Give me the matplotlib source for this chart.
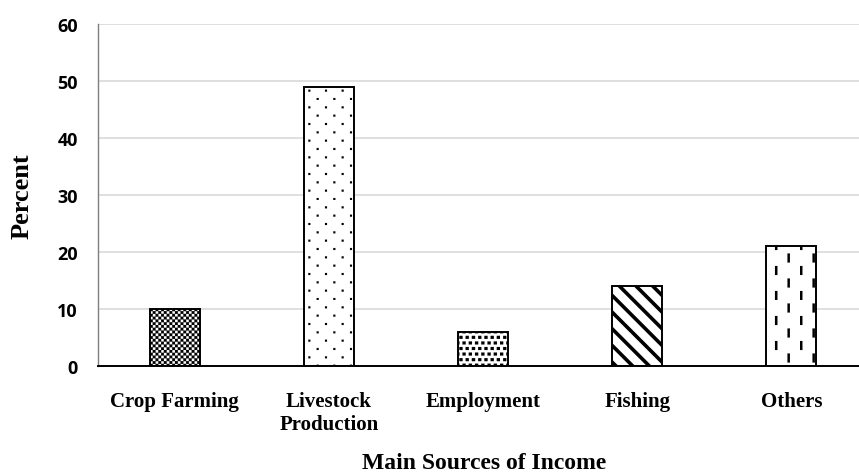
import matplotlib
matplotlib.use("Agg")
import matplotlib.pyplot as plt
from matplotlib import hatch as mhatch
from matplotlib.path import Path

# Data
categories = ["Crop Farming", "Livestock\nProduction", "Employment", "Fishing", "Others"]
percent = [10, 49, 6, 14, 21]
yticks = [0, 10, 20, 30, 40, 50, 60]
# fill patterns: '*' checker, '.' sparse dots, 'O' small squares, '\' thick stripes, '|' dashed columns
hatches = ["*", ".", "O", "\\\\", "|"]


# --- custom hatch patterns (unit tile = 1 inch) ---
def checker_rects(n=36):
    s = 1.0 / n
    return [(i * s, j * s, s, s) for i in range(n) for j in range(n) if (i + j) % 2 == 0]


def stagger_rects(nx, ny, w, h):
    out = []
    dx, dy = 1.0 / nx, 1.0 / ny
    for j in range(ny):
        off = dx / 2 if j % 2 else 0.0
        for i in range(nx):
            out.append((i * dx + off, j * dy, w, h))
    return out


def dash_rects(ncol=8, nper=4, length=0.09, width=0.024):
    out = []
    dx, dy = 1.0 / ncol, 1.0 / nper
    for i in range(ncol):
        off = dy / 2 if i % 2 else 0.0
        for j in range(nper):
            out.append((i * dx, j * dy + off, width, length))
    return out


class RectHatch(mhatch.HatchPatternBase):
    key = ""
    rects = []

    def __init__(self, hatch, density):
        self.num_vertices = 5 * len(self.rects) if self.key in hatch else 0

    def set_vertices_and_codes(self, vertices, codes):
        for k, (x0, y0, w, h) in enumerate(self.rects):
            # keep shapes inside the tile
            x0 = min(x0, 1 - w)
            y0 = min(y0, 1 - h)
            vertices[5 * k:5 * k + 5] = [(x0, y0), (x0 + w, y0), (x0 + w, y0 + h),
                                         (x0, y0 + h), (x0, y0)]
            codes[5 * k:5 * k + 5] = [Path.MOVETO, Path.LINETO, Path.LINETO,
                                      Path.LINETO, Path.CLOSEPOLY]


class CheckerHatch(RectHatch):
    key = "*"
    rects = checker_rects()


class SquaresHatch(RectHatch):
    key = "O"
    rects = stagger_rects(16, 18, 0.032, 0.03)


class DotsHatch(RectHatch):
    key = "."
    rects = stagger_rects(6, 12, 0.02, 0.02)


class DashHatch(RectHatch):
    key = "|"
    rects = dash_rects()


mhatch._hatch_types = [mhatch.SouthEastHatch, CheckerHatch, SquaresHatch, DotsHatch, DashHatch]

fig = plt.figure(figsize=(8.59, 4.77), dpi=100)
ax = fig.add_axes([97.5 / 859, 1 - 367 / 477, 771 / 859, 342 / 477])

x = range(len(categories))
bars = ax.bar(x, percent, width=0.325, color="white", edgecolor="black", linewidth=1.4, zorder=3)
for b, h in zip(bars, hatches):
    b.set_hatch(h)
    try:
        b.set_hatch_linewidth(2.6 if h.startswith("\\") else 0.1)
    except AttributeError:
        pass

ax.set_xlim(-0.5, len(categories) - 0.5)
ax.set_ylim(0, 60)
ax.set_yticks(yticks)
ax.set_yticklabels([str(v) for v in yticks], fontfamily="Open Sans", fontweight="bold", fontsize=13)
ax.set_xticks(list(x))
ax.set_xticklabels(categories, fontfamily="Liberation Serif", fontweight="bold", fontsize=15,
                   linespacing=1.2)
ax.tick_params(length=0, axis="y", pad=14)
ax.tick_params(length=0, axis="x", pad=18)

ax.grid(axis="y", color="#d9d9d9", linewidth=1.2, zorder=0)
ax.set_axisbelow(True)
for s in ["top", "right"]:
    ax.spines[s].set_visible(False)
ax.spines["left"].set_color("#7f7f7f")
ax.spines["left"].set_linewidth(1.0)
ax.spines["bottom"].set_color("black")
ax.spines["bottom"].set_linewidth(1.4)
ax.spines["bottom"].set_zorder(4)

fig.text(22 / 859, 1 - 196 / 477, "Percent", rotation=90, ha="center", va="center",
         fontfamily="Liberation Serif", fontweight="bold", fontsize=19)
fig.text(484 / 859, 1 - 464 / 477, "Main Sources of Income", ha="center", va="center",
         fontfamily="Liberation Serif", fontweight="bold", fontsize=17)

plt.savefig("out.png", dpi=100)
plt.close()
